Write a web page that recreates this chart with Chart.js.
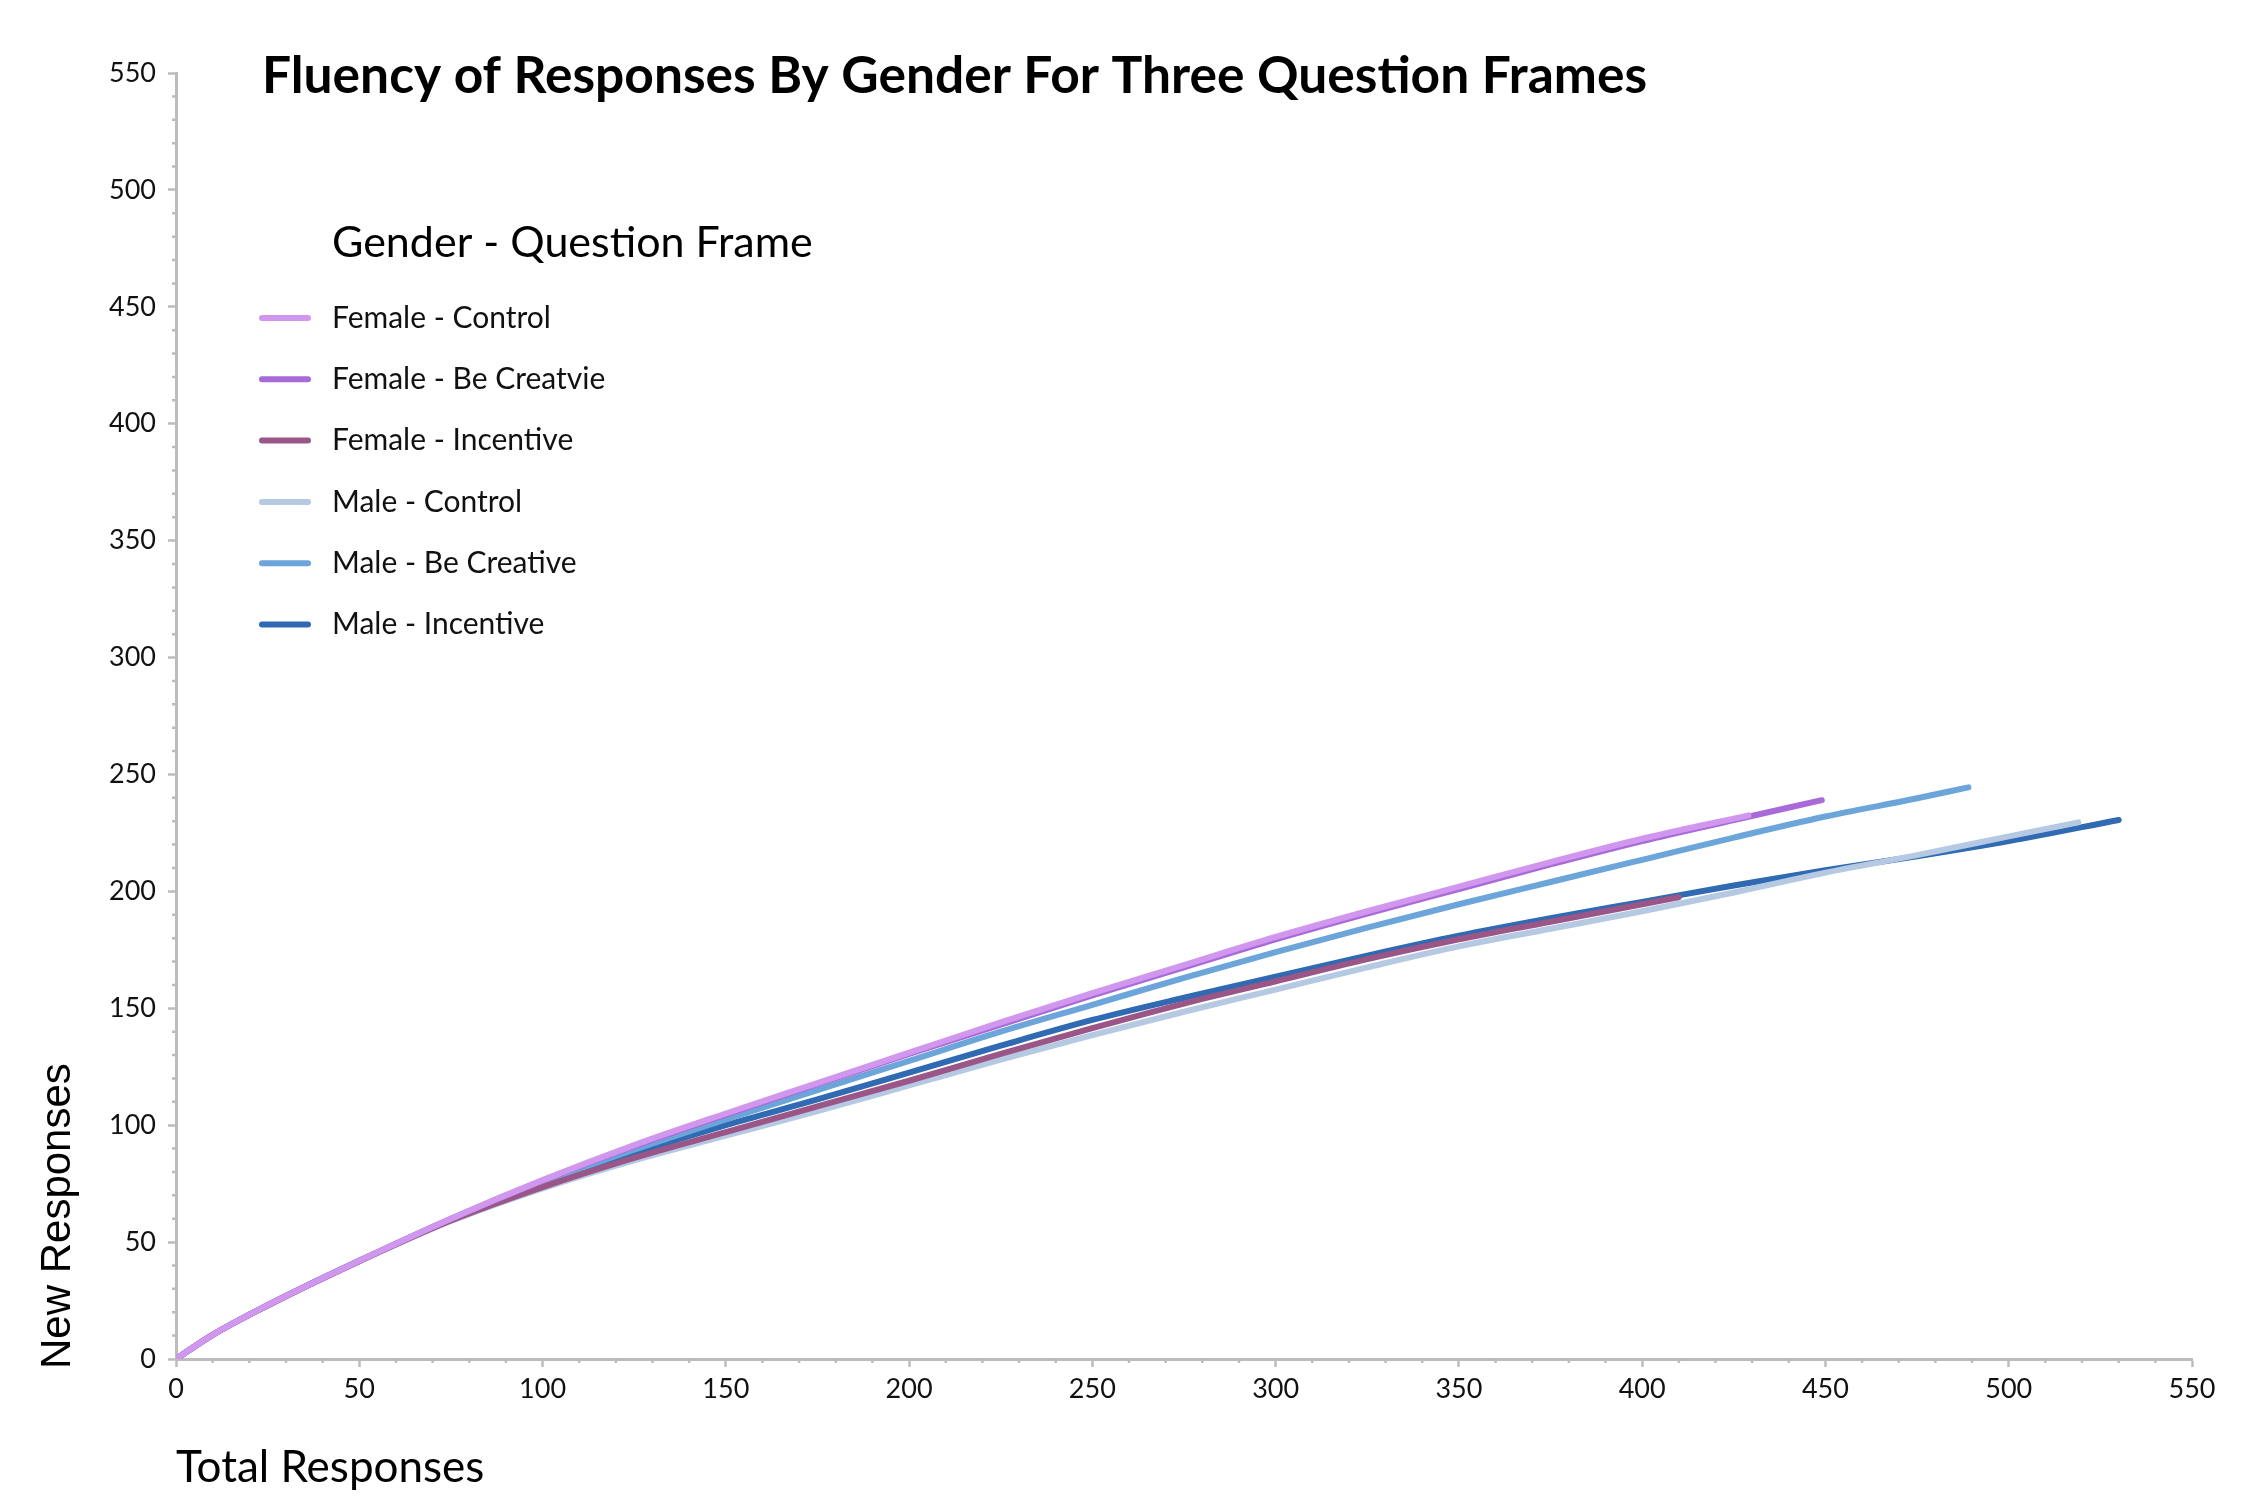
<!DOCTYPE html>
<html>
<head>
<meta charset="utf-8">
<title>Fluency of Responses By Gender For Three Question Frames</title>
<script src="https://cdn.jsdelivr.net/npm/chart.js@4.4.0/dist/chart.umd.min.js"></script>
<style>
    html, body { margin: 0; padding: 0; background: #ffffff; }
    #wrap { width: 2250px; height: 1500px; }
</style>
</head>
<body>
<div id="wrap"><canvas id="fluencyChart" width="2250" height="1500"></canvas></div>
<script>
// Series names (legend order) and colours
const seriesLabels = [
    'Female - Control',
    'Female - Be Creatvie',
    'Female - Incentive',
    'Male - Control',
    'Male - Be Creative',
    'Male - Incentive'
];
const seriesColors = ['#d197ef', '#a96ad9', '#9b5688', '#b6c9e3', '#6ca5da', '#2f6ab3'];

// Total responses (x) and new responses (y)
const femaleControlX = [0, 10, 25, 50, 75, 100, 125, 150, 175, 200, 225, 250, 275, 300, 325, 350, 375, 400, 429];
const femaleControlY = [0, 10.3, 23, 42, 60, 76.5, 91.5, 105, 118, 131, 144, 156.5, 168.5, 180.5, 191.5, 202, 212.5, 222.5, 232.5];

const femaleCreativeX = [0, 10, 25, 50, 75, 100, 125, 150, 175, 200, 225, 250, 275, 300, 325, 350, 375, 400, 425, 449];
const femaleCreativeY = [0, 10.3, 23, 42, 60, 76.3, 91, 104.5, 117.5, 130.5, 143, 155.5, 167.5, 179.5, 190.5, 201, 211.5, 221.5, 230.5, 239];

const femaleIncentiveX = [0, 10, 25, 50, 75, 100, 125, 150, 175, 200, 225, 250, 275, 300, 325, 350, 375, 400, 410];
const femaleIncentiveY = [0, 10.3, 22.9, 41.8, 59.2, 73.5, 86, 97, 108, 119, 130.5, 141.5, 152, 161.5, 171, 179.5, 187, 194.5, 197.5];

const maleControlX = [0, 10, 25, 50, 75, 100, 125, 150, 175, 200, 225, 250, 275, 300, 325, 350, 375, 400, 425, 450, 475, 500, 519];
const maleControlY = [0, 10.3, 22.9, 41.8, 59, 73, 85, 95.5, 106, 117, 128, 138.5, 148.5, 158, 167.5, 176.5, 184, 191.5, 199.5, 208, 215.5, 223.5, 229.5];

const maleCreativeX = [0, 10, 25, 50, 75, 100, 125, 150, 175, 200, 225, 250, 275, 300, 325, 350, 375, 400, 425, 450, 475, 489];
const maleCreativeY = [0, 10.3, 23, 42, 59.8, 75.5, 89.5, 102.5, 115, 127.5, 140, 151.5, 163, 174, 184.5, 194.5, 204, 213.5, 223, 232, 239.8, 244.5];

const maleIncentiveX = [0, 10, 25, 50, 75, 100, 125, 150, 175, 200, 225, 250, 275, 300, 325, 350, 375, 400, 425, 450, 475, 500, 530];
const maleIncentiveY = [0, 10.3, 23, 42, 59.6, 75, 88, 100, 111, 122.5, 134, 145, 154.5, 163.5, 172.5, 181, 188.5, 195.5, 202.5, 209, 215, 221.5, 230.5];

const seriesX = [femaleControlX, femaleCreativeX, femaleIncentiveX, maleControlX, maleCreativeX, maleIncentiveX];
const seriesY = [femaleControlY, femaleCreativeY, femaleIncentiveY, maleControlY, maleCreativeY, maleIncentiveY];

// Axis range and ticks
const axisMin = 0;
const axisMax = 550;
const majorStep = 50;
const minorStep = 10;

const chartTitle = 'Fluency of Responses By Gender For Three Question Frames';
const legendTitle = 'Gender - Question Frame';
const xTitle = 'Total Responses';
const yTitle = 'New Responses';

const axisGray = '#bcbcbc';
const textColor = '#111111';
const mainFont = 'Lato';

// Short minor ticks between the labelled ones
const minorTicksPlugin = {
    id: 'minorTicks',
    afterDraw(chart) {
        const { ctx, scales: { x, y } } = chart;
        ctx.save();
        ctx.strokeStyle = axisGray;
        ctx.lineWidth = 2.5;
        ctx.beginPath();
        for (let v = axisMin; v <= axisMax; v += minorStep) {
            if (v % majorStep === 0) continue;
            const px = x.getPixelForValue(v);
            ctx.moveTo(px, x.top);
            ctx.lineTo(px, x.top + 4);
            const py = y.getPixelForValue(v);
            ctx.moveTo(y.right, py);
            ctx.lineTo(y.right - 4, py);
        }
        ctx.stroke();
        ctx.restore();
    }
};

// Title, legend and the vertical axis title are placed by hand, as in the original
const overlayPlugin = {
    id: 'overlay',
    afterDraw(chart) {
        const ctx = chart.ctx;
        ctx.save();
        ctx.fillStyle = '#000000';
        ctx.textBaseline = 'middle';
        ctx.textAlign = 'left';
        ctx.font = `bold 51.5px ${mainFont}`;
        ctx.fillText(chartTitle, 262, 76);

        ctx.font = `43px ${mainFont}`;
        ctx.fillText(legendTitle, 332, 243);

        ctx.font = `30px ${mainFont}`;
        chart.data.datasets.forEach((ds, i) => {
            const yy = 318 + i * 61.3;
            ctx.strokeStyle = ds.borderColor;
            ctx.lineWidth = 6;
            ctx.lineCap = 'round';
            ctx.beginPath();
            ctx.moveTo(262, yy);
            ctx.lineTo(308, yy);
            ctx.stroke();
            ctx.fillStyle = textColor;
            ctx.fillText(ds.label, 332, yy);
        });

        // rotated y axis title, starting a little below the x axis
        ctx.fillStyle = '#000000';
        ctx.font = '42px "Liberation Sans"';
        ctx.translate(58, chart.chartArea.bottom + 10);
        ctx.rotate(-Math.PI / 2);
        ctx.fillText(yTitle, 0, 0);
        ctx.restore();
    }
};

function buildDatasets() {
    return seriesLabels.map((label, i) => ({
        label: label,
        data: seriesX[i].map((xv, j) => ({ x: xv, y: seriesY[i][j] })),
        borderColor: seriesColors[i],
        backgroundColor: seriesColors[i],
        borderWidth: 6,
        borderCapStyle: 'round',
        borderJoinStyle: 'round',
        pointRadius: 0,
        cubicInterpolationMode: 'monotone',
        fill: false
    }));
}

const ctx = document.getElementById('fluencyChart').getContext('2d');
new Chart(ctx, {
    type: 'line',
    data: { datasets: buildDatasets() },
    options: {
        responsive: false,
        devicePixelRatio: 1,
        animation: false,
        layout: { padding: { top: 73, right: 58, bottom: 0, left: 0 } },
        plugins: {
            legend: { display: false },
            title: { display: false },
            tooltip: { enabled: false }
        },
        scales: {
            x: {
                type: 'linear',
                min: axisMin,
                max: axisMax,
                afterFit: (scale) => { scale.height = 141; },
                ticks: {
                    stepSize: majorStep,
                    color: textColor,
                    padding: 6,
                    maxRotation: 0,
                    font: { family: mainFont, size: 27 }
                },
                grid: {
                    drawOnChartArea: false,
                    tickLength: 8,
                    tickWidth: 2.5,
                    tickColor: axisGray
                },
                border: { color: axisGray, width: 3 },
                title: {
                    display: true,
                    text: xTitle,
                    align: 'start',
                    color: '#000000',
                    padding: { top: 0, bottom: 10 },
                    font: { family: mainFont, size: 44, lineHeight: 1.0 }
                }
            },
            y: {
                type: 'linear',
                min: axisMin,
                max: axisMax,
                afterFit: (scale) => { scale.width = 176; },
                ticks: {
                    stepSize: majorStep,
                    color: textColor,
                    padding: 12,
                    font: { family: mainFont, size: 27 }
                },
                grid: {
                    drawOnChartArea: false,
                    tickLength: 8,
                    tickWidth: 2.5,
                    tickColor: axisGray
                },
                border: { color: axisGray, width: 3 },
                title: { display: false, text: yTitle }
            }
        }
    },
    plugins: [minorTicksPlugin, overlayPlugin]
});
</script>
</body>
</html>
